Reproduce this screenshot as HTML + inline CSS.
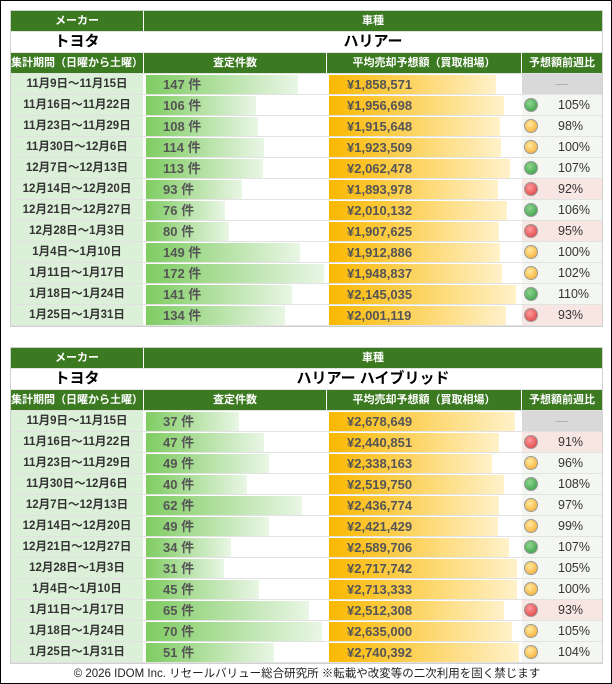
<!DOCTYPE html><html><head><meta charset="utf-8"><style>
*{margin:0;padding:0;box-sizing:border-box}
body{width:612px;height:684px;background:#fff;position:relative;overflow:hidden;font-family:"Liberation Sans","Noto Sans CJK JP",sans-serif;border:1px solid #000}
.t{position:absolute;left:10px;width:591px;outline:1px solid #d0d0d0}
.r{position:relative;height:21px;border-bottom:1px solid #e2e2e2}
.c{position:absolute;top:0;height:20px;line-height:20px;text-align:center;font-size:11.5px}
.a{left:0;width:132px}.b{left:133px;width:182px}.p{left:316px;width:194px}.q{left:511px;width:80px}
.h .c{background:#3b7a21;color:#fff;font-weight:bold;font-size:11px}
.m .c{font-weight:bold;font-size:15px;color:#000}
.d .a{background:#dcefd8;color:#333;font-weight:bold;font-size:11.5px}
.bar{position:absolute;left:2px;top:1px;height:19px;background:linear-gradient(90deg,#7fcc62,#e9f6e5);text-align:left;padding-left:17px;font-weight:bold;font-size:13px;color:#555;line-height:19px;white-space:nowrap}
.pb{position:absolute;left:2px;top:1px;height:19px;background:linear-gradient(90deg,#fbb800,#fff1c9);text-align:left;padding-left:18px;font-weight:bold;font-size:13px;color:#555;line-height:19px;white-space:nowrap}
.q{font-size:12.5px;color:#333;text-align:left}
.q span{position:absolute;left:36px}
.o{position:absolute;left:2px;top:3px;width:14px;height:14px;border-radius:50%;border:1px solid #999}
.G{background:radial-gradient(circle at 40% 35%,#8fd58f,#2f9a3f)}
.Y{background:radial-gradient(circle at 40% 35%,#ffe9a0,#f5a623)}
.R{background:radial-gradient(circle at 40% 35%,#ff9a9a,#d9383a)}
.bg{background:#f3f6f1}.br{background:#f8e6e2}.bn{background:#d9d9d9;color:#aaa;text-align:center}
.ft{position:absolute;top:664px;left:0;width:612px;text-align:center;font-size:11.5px;color:#222}
</style></head><body>
<div class="t" style="top:10px">
<div class="r h"><div class="c a">メーカー</div><div class="c" style="left:133px;width:458px;background:#3b7a21;color:#fff;font-weight:bold;font-size:11px">車種</div></div>
<div class="r m"><div class="c a">トヨタ</div><div class="c" style="left:133px;width:458px">ハリアー</div></div>
<div class="r h"><div class="c a">集計期間（日曜から土曜）</div><div class="c b">査定件数</div><div class="c p">平均売却予想額（買取相場）</div><div class="c q" style="text-align:center">予想額前週比</div></div>
<div class="r d"><div class="c a">11月9日～11月15日</div><div class="c b"><div class="bar" style="width:152px">147 件</div></div><div class="c p"><div class="pb" style="width:167px">¥1,858,571</div></div><div class="c q bn">—</div></div>
<div class="r d"><div class="c a">11月16日～11月22日</div><div class="c b"><div class="bar" style="width:110px">106 件</div></div><div class="c p"><div class="pb" style="width:175px">¥1,956,698</div></div><div class="c q bg"><i class="o G"></i><span>105%</span></div></div>
<div class="r d"><div class="c a">11月23日～11月29日</div><div class="c b"><div class="bar" style="width:112px">108 件</div></div><div class="c p"><div class="pb" style="width:171px">¥1,915,648</div></div><div class="c q bg"><i class="o Y"></i><span>98%</span></div></div>
<div class="r d"><div class="c a">11月30日～12月6日</div><div class="c b"><div class="bar" style="width:118px">114 件</div></div><div class="c p"><div class="pb" style="width:172px">¥1,923,509</div></div><div class="c q bg"><i class="o Y"></i><span>100%</span></div></div>
<div class="r d"><div class="c a">12月7日～12月13日</div><div class="c b"><div class="bar" style="width:117px">113 件</div></div><div class="c p"><div class="pb" style="width:181px">¥2,062,478</div></div><div class="c q bg"><i class="o G"></i><span>107%</span></div></div>
<div class="r d"><div class="c a">12月14日～12月20日</div><div class="c b"><div class="bar" style="width:96px">93 件</div></div><div class="c p"><div class="pb" style="width:169px">¥1,893,978</div></div><div class="c q br"><i class="o R"></i><span>92%</span></div></div>
<div class="r d"><div class="c a">12月21日～12月27日</div><div class="c b"><div class="bar" style="width:79px">76 件</div></div><div class="c p"><div class="pb" style="width:178px">¥2,010,132</div></div><div class="c q bg"><i class="o G"></i><span>106%</span></div></div>
<div class="r d"><div class="c a">12月28日～1月3日</div><div class="c b"><div class="bar" style="width:83px">80 件</div></div><div class="c p"><div class="pb" style="width:170px">¥1,907,625</div></div><div class="c q br"><i class="o R"></i><span>95%</span></div></div>
<div class="r d"><div class="c a">1月4日～1月10日</div><div class="c b"><div class="bar" style="width:154px">149 件</div></div><div class="c p"><div class="pb" style="width:171px">¥1,912,886</div></div><div class="c q bg"><i class="o Y"></i><span>100%</span></div></div>
<div class="r d"><div class="c a">1月11日～1月17日</div><div class="c b"><div class="bar" style="width:178px">172 件</div></div><div class="c p"><div class="pb" style="width:173px">¥1,948,837</div></div><div class="c q bg"><i class="o Y"></i><span>102%</span></div></div>
<div class="r d"><div class="c a">1月18日～1月24日</div><div class="c b"><div class="bar" style="width:146px">141 件</div></div><div class="c p"><div class="pb" style="width:187px">¥2,145,035</div></div><div class="c q bg"><i class="o G"></i><span>110%</span></div></div>
<div class="r d"><div class="c a">1月25日～1月31日</div><div class="c b"><div class="bar" style="width:139px">134 件</div></div><div class="c p"><div class="pb" style="width:177px">¥2,001,119</div></div><div class="c q br"><i class="o R"></i><span>93%</span></div></div>
</div>
<div class="t" style="top:347px">
<div class="r h"><div class="c a">メーカー</div><div class="c" style="left:133px;width:458px;background:#3b7a21;color:#fff;font-weight:bold;font-size:11px">車種</div></div>
<div class="r m"><div class="c a">トヨタ</div><div class="c" style="left:133px;width:458px">ハリアー ハイブリッド</div></div>
<div class="r h"><div class="c a">集計期間（日曜から土曜）</div><div class="c b">査定件数</div><div class="c p">平均売却予想額（買取相場）</div><div class="c q" style="text-align:center">予想額前週比</div></div>
<div class="r d"><div class="c a">11月9日～11月15日</div><div class="c b"><div class="bar" style="width:93px">37 件</div></div><div class="c p"><div class="pb" style="width:186px">¥2,678,649</div></div><div class="c q bn">—</div></div>
<div class="r d"><div class="c a">11月16日～11月22日</div><div class="c b"><div class="bar" style="width:118px">47 件</div></div><div class="c p"><div class="pb" style="width:170px">¥2,440,851</div></div><div class="c q br"><i class="o R"></i><span>91%</span></div></div>
<div class="r d"><div class="c a">11月23日～11月29日</div><div class="c b"><div class="bar" style="width:123px">49 件</div></div><div class="c p"><div class="pb" style="width:163px">¥2,338,163</div></div><div class="c q bg"><i class="o Y"></i><span>96%</span></div></div>
<div class="r d"><div class="c a">11月30日～12月6日</div><div class="c b"><div class="bar" style="width:101px">40 件</div></div><div class="c p"><div class="pb" style="width:175px">¥2,519,750</div></div><div class="c q bg"><i class="o G"></i><span>108%</span></div></div>
<div class="r d"><div class="c a">12月7日～12月13日</div><div class="c b"><div class="bar" style="width:156px">62 件</div></div><div class="c p"><div class="pb" style="width:170px">¥2,436,774</div></div><div class="c q bg"><i class="o Y"></i><span>97%</span></div></div>
<div class="r d"><div class="c a">12月14日～12月20日</div><div class="c b"><div class="bar" style="width:123px">49 件</div></div><div class="c p"><div class="pb" style="width:169px">¥2,421,429</div></div><div class="c q bg"><i class="o Y"></i><span>99%</span></div></div>
<div class="r d"><div class="c a">12月21日～12月27日</div><div class="c b"><div class="bar" style="width:85px">34 件</div></div><div class="c p"><div class="pb" style="width:180px">¥2,589,706</div></div><div class="c q bg"><i class="o G"></i><span>107%</span></div></div>
<div class="r d"><div class="c a">12月28日～1月3日</div><div class="c b"><div class="bar" style="width:78px">31 件</div></div><div class="c p"><div class="pb" style="width:188px">¥2,717,742</div></div><div class="c q bg"><i class="o Y"></i><span>105%</span></div></div>
<div class="r d"><div class="c a">1月4日～1月10日</div><div class="c b"><div class="bar" style="width:113px">45 件</div></div><div class="c p"><div class="pb" style="width:188px">¥2,713,333</div></div><div class="c q bg"><i class="o Y"></i><span>100%</span></div></div>
<div class="r d"><div class="c a">1月11日～1月17日</div><div class="c b"><div class="bar" style="width:163px">65 件</div></div><div class="c p"><div class="pb" style="width:175px">¥2,512,308</div></div><div class="c q br"><i class="o R"></i><span>93%</span></div></div>
<div class="r d"><div class="c a">1月18日～1月24日</div><div class="c b"><div class="bar" style="width:176px">70 件</div></div><div class="c p"><div class="pb" style="width:183px">¥2,635,000</div></div><div class="c q bg"><i class="o Y"></i><span>105%</span></div></div>
<div class="r d"><div class="c a">1月25日～1月31日</div><div class="c b"><div class="bar" style="width:128px">51 件</div></div><div class="c p"><div class="pb" style="width:190px">¥2,740,392</div></div><div class="c q bg"><i class="o Y"></i><span>104%</span></div></div>
</div>
<div class="ft">© 2026 IDOM Inc. リセールバリュー総合研究所 ※転載や改変等の二次利用を固く禁じます</div>
</body></html>
